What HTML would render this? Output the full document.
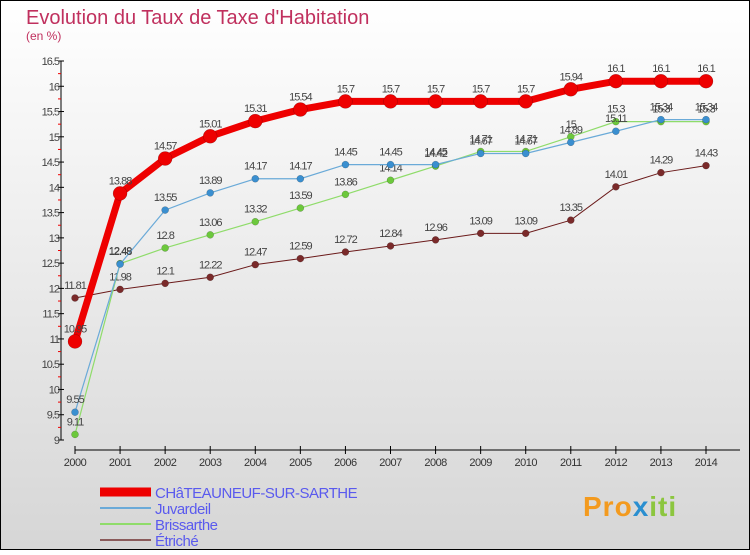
<!DOCTYPE html>
<html><head><meta charset="utf-8"><style>
body{margin:0;width:750px;height:550px;overflow:hidden;font-family:"Liberation Sans",sans-serif}
</style></head><body>
<svg width="750" height="550" xmlns="http://www.w3.org/2000/svg">
<defs><linearGradient id="bg" x1="0" y1="0" x2="0" y2="1"><stop offset="0" stop-color="#ffffff"/><stop offset="1" stop-color="#d6d6d6"/></linearGradient></defs>
<rect x="0.5" y="0.5" width="749" height="549" fill="url(#bg)" stroke="#000"/>
<text x="26" y="24" font-size="20" fill="#c0305e">Evolution du Taux de Taxe d'Habitation</text>
<text x="26" y="40" font-size="12" fill="#c0305e">(en %)</text>
<g id="axes"></g><g id="series"></g><g id="legend"></g>
<text x="583" y="516" font-size="28" font-weight="bold" fill="#f39a1e" style="letter-spacing:1px">Pro<tspan fill="#2a8fd0">x</tspan><tspan fill="#8cc63f">iti</tspan></text>
</svg>
<script>
const years=[2000,2001,2002,2003,2004,2005,2006,2007,2008,2009,2010,2011,2012,2013,2014];
const yTicks=[9,9.5,10,10.5,11,11.5,12,12.5,13,13.5,14,14.5,15,15.5,16,16.5];
const chateau=[10.95,13.88,14.57,15.01,15.31,15.54,15.7,15.7,15.7,15.7,15.7,15.94,16.1,16.1,16.1];
const juvardeil=[9.55,12.48,13.55,13.89,14.17,14.17,14.45,14.45,14.45,14.67,14.67,14.89,15.11,15.34,15.34];
const brissarthe=[9.11,12.49,12.8,13.06,13.32,13.59,13.86,14.14,14.42,14.71,14.71,15,15.3,15.3,15.3];
const etriche=[11.81,11.98,12.1,12.22,12.47,12.59,12.72,12.84,12.96,13.09,13.09,13.35,14.01,14.29,14.43];
const names=["CHâTEAUNEUF-SUR-SARTHE","Juvardeil","Brissarthe","Étriché"];
const NS="http://www.w3.org/2000/svg";
const X=i=>75+i*(706-75)/14;
const Y=v=>440-(v-9)*(440-61)/7.5;
function mk(p,t,a){const e=document.createElementNS(NS,t);for(const k in a)e.setAttribute(k,a[k]);p.appendChild(e);return e;}
const ax=document.getElementById('axes');
let l=mk(ax,'line',{x1:61,y1:Y(16.5),x2:61,y2:440,stroke:'#000'});

l=mk(ax,'line',{x1:75,y1:450,x2:740,y2:450,stroke:'#000'});

yTicks.forEach(v=>{mk(ax,'line',{x1:58,x2:64,y1:Y(v),y2:Y(v),stroke:'#000'});
 const t=mk(ax,'text',{x:59,y:Y(v)+4,'text-anchor':'end','font-size':11,fill:'#444','letter-spacing':'-1'});t.textContent=v;
 
 if(v<16.5)mk(ax,'line',{x1:58,x2:61,y1:Y(v+0.25),y2:Y(v+0.25),stroke:'#e00'});});
years.forEach((y,i)=>{mk(ax,'line',{x1:X(i),x2:X(i),y1:446,y2:454,stroke:'#000'});
 const t=mk(ax,'text',{x:X(i),y:466,'text-anchor':'middle','font-size':11,fill:'#333','letter-spacing':'-0.5'});t.textContent=y;
 });
const S=[[etriche,'#6b1a1a','#7a2a2a',1,3.5,names[3]],[brissarthe,'#8fdc6a','#6cc83c',1.2,3.5,names[2]],[juvardeil,'#6aaad8','#3a8fd0',1.2,3.5,names[1]],[chateau,'#ee0000','#ee0000',7,7,names[0]]];
const sg=document.getElementById('series');
S.forEach(([d,lc,mc,w,r,n])=>{const g=mk(sg,'g',{});
 
 mk(g,'polyline',{points:d.map((v,i)=>X(i)+','+Y(v)).join(' '),fill:'none',stroke:lc,'stroke-width':w});
 d.forEach((v,i)=>{const c=mk(g,'circle',{cx:X(i),cy:Y(v),r:r,fill:mc,stroke:'rgba(0,0,0,0.3)','stroke-width':0.5});
  
  const t=mk(g,'text',{x:X(i),y:Y(v)-9,'text-anchor':'middle','font-size':11,fill:'#444','letter-spacing':'-1'});t.textContent=v;
  });});
const lg=document.getElementById('legend');
[[names[0],'#ee0000',9],[names[1],'#6aaad8',2],[names[2],'#8fdc6a',2],[names[3],'#8a5a5a',2]].forEach(([n,c,w],i)=>{
 const y=492+i*16;const g=mk(lg,'g',{});
 
 mk(g,'line',{x1:100,x2:151,y1:y,y2:y,stroke:c,'stroke-width':w});
 const t=mk(g,'text',{x:155,y:y+6,'font-size':15,fill:'#5a5aee','letter-spacing':'-0.5'});t.textContent=n;});
</script>
</body></html>
